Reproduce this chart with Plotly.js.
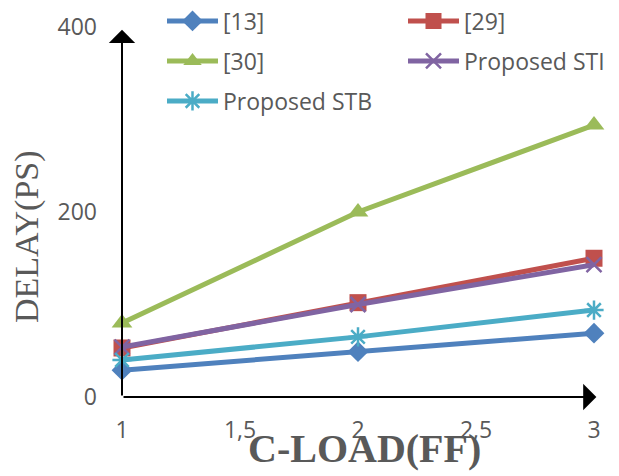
<!DOCTYPE html>
<html>
<head>
<meta charset="utf-8">
<script src="https://cdn.plot.ly/plotly-3.0.1.min.js"></script>
<style>html,body{margin:0;padding:0;background:#fff;}#chart{width:619px;height:476px;}</style>
</head>
<body>
<div id="chart"></div>
<script>
const cload = [1, 2, 3];
const names = ['[13]', '[29]', '[30]', 'Proposed STI', 'Proposed STB'];
const s13 = [29, 49, 69];
const s29 = [53, 102, 150];
const s30 = [80, 200, 294];
const sSTI = [54, 100, 143];
const sSTB = [40, 65, 94];
const xTickVals = [1, 1.5, 2, 2.5, 3];
const xTickText = ['1', '1,5', '2', '2,5', '3'];
const yTickVals = [0, 200, 400];

const colors = ['#4F81BD', '#C0504D', '#9BBB59', '#8064A2', '#4BACC6'];
const symbols = ['diamond', 'square', 'triangle-up', 'x-thin-open', 'asterisk-open'];
const sizes = [16, 17, 18, 15, 16];
const legendIds = ['legend', 'legend2', 'legend3', 'legend4', 'legend5'];
// legend anchor positions (pixels)
const legPos = [[157, 21], [398, 21], [157, 61], [398, 61], [157, 101]];
const series = [s13, s29, s30, sSTI, sSTB];

const traces = series.map((s, i) => ({
  x: cload, y: s, name: names[i], type: 'scatter', mode: 'lines+markers',
  line: {color: colors[i], width: 5},
  marker: {symbol: symbols[i], size: sizes[i], color: colors[i], line: {color: colors[i], width: (i >= 3 ? 2.5 : 0)}},
  cliponaxis: false, legend: legendIds[i]
}));

const legFont = {family: 'Open Sans, Liberation Sans, sans-serif', size: 23, color: '#595959'};
const tickFont = {family: 'Open Sans, Liberation Sans, sans-serif', size: 23, color: '#595959'};

const layout = {
  width: 619, height: 476,
  margin: {l: 122, r: 25, t: 27, b: 79, autoexpand: false},
  paper_bgcolor: '#fff', plot_bgcolor: '#fff',
  showlegend: true,
  xaxis: {range: [1, 3], tickvals: xTickVals, ticktext: xTickText, showgrid: false, zeroline: false,
    showline: false, ticks: '', ticklabelstandoff: 17, tickfont: tickFont},
  yaxis: {range: [0, 400], tickvals: yTickVals, showgrid: false, zeroline: false,
    showline: false, ticks: '', ticklabelstandoff: 24, tickfont: tickFont},
  annotations: [
    {x: 3.01, y: 0, ax: 1, ay: 0, xref: 'x', yref: 'y', axref: 'x', ayref: 'y', showarrow: true,
      arrowhead: 1, arrowwidth: 2, arrowsize: 2.2, arrowcolor: '#000', text: ''},
    {x: 1, y: 397, ax: 1, ay: 0, xref: 'x', yref: 'y', axref: 'x', ayref: 'y', showarrow: true,
      arrowhead: 1, arrowwidth: 2, arrowsize: 2.2, arrowcolor: '#000', text: ''},
    {text: 'DELAY(PS)', xref: 'paper', yref: 'paper', x: 27/472 - 122/472, y: (397 - 237)/370,
      xanchor: 'center', yanchor: 'middle', textangle: -90, showarrow: false,
      font: {family: 'Liberation Serif, Times New Roman, serif', size: 34, color: '#595959'}},
    {text: '<b>C-LOAD(FF)</b>', xref: 'paper', yref: 'paper', x: (364 - 122)/472, y: (397 - 449)/370,
      xanchor: 'center', yanchor: 'middle', showarrow: false,
      font: {family: 'Liberation Serif, Times New Roman, serif', size: 40, color: '#595959'}}
  ]
};

legendIds.forEach((id, i) => {
  layout[id] = {
    orientation: 'v', xref: 'container', yref: 'container', xanchor: 'left', yanchor: 'middle',
    x: (legPos[i][0] + 5) / 619, y: 1 - legPos[i][1] / 476,
    font: legFont, bgcolor: 'rgba(0,0,0,0)', itemwidth: 51, borderwidth: 0
  };
});

Plotly.newPlot('chart', traces, layout, {displayModeBar: false, staticPlot: true});
</script>
</body>
</html>
